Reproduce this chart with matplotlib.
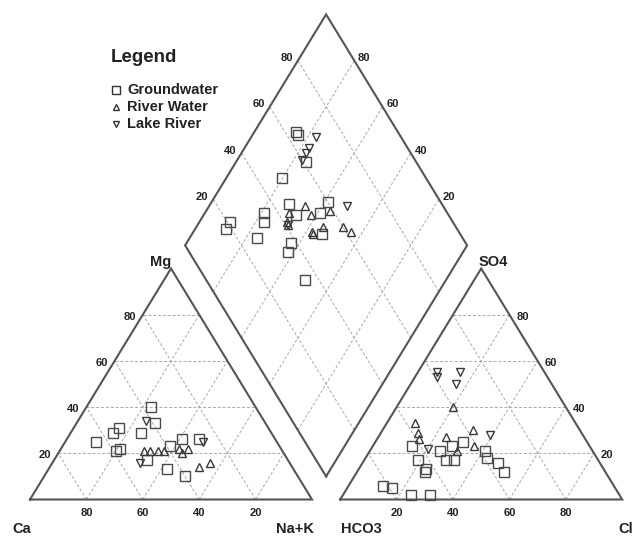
import numpy as np
import matplotlib
matplotlib.use("Agg")
import matplotlib.pyplot as plt

# ---------------- data (percent) ----------------
# Cation triangle: Mg %, Na+K %  (Ca = remainder)
gw_cat_mg = [40, 33, 31, 29, 29, 25, 21, 22, 23, 26, 26, 17, 13, 10]
gw_cat_na = [23, 28, 16, 15, 25, 11, 20, 21, 38, 41, 47, 33, 42, 50]
rw_cat_mg = [21, 21, 21, 21, 22, 22, 20, 14, 16]
rw_cat_na = [30, 32, 35, 37, 42, 45, 44, 53, 56]
lr_cat_mg = [34, 25, 16]
lr_cat_na = [24, 49, 31]

# Anion triangle: SO4 %, Cl %  (HCO3 = remainder)
gw_an_so4 = [23, 17, 13, 12, 21, 23, 25, 17, 17, 21, 18, 16, 12, 6, 5, 2, 2]
gw_an_cl = [14, 19, 24, 24, 25, 28, 31, 29, 32, 41, 43, 48, 52, 12, 16, 24, 31]
rw_an_so4 = [40, 33, 29, 26, 27, 30, 21, 23]
rw_an_cl = [20, 10, 13, 15, 24, 32, 31, 36]
lr_an_so4 = [55, 53, 55, 50, 28, 22]
lr_an_cl = [7, 8, 15, 16, 39, 20]

# Diamond: SO4+Cl %, Ca+Mg %
gw_d_scl = [64, 64, 61, 49, 46, 35, 60, 46, 55, 21, 18, 33, 27, 38, 35, 51, 35]
gw_d_camg = [85, 84, 75, 80, 72, 79, 59, 67, 59, 89, 89, 77, 76, 63, 62, 54, 50]
rw_d_scl = [51, 51, 44, 41, 41, 48, 48, 53, 60, 62, 59]
rw_d_camg = [66, 62, 70, 69, 68, 58, 57, 55, 48, 44, 56]
lr_d_scl = [70, 65, 63, 60, 66, 41]
lr_d_camg = [77, 77, 77, 77, 51, 68]

tick_vals = [20, 40, 60, 80]
series_names = ["Groundwater", "River Water", "Lake River"]

# ---------------- geometry ----------------
H = np.sqrt(3) / 2
G = 0.1  # gap between triangles
PX_X = 282.0
PX_Y = 231.0 / H


def cat_xy(mg, na):
    mg = np.asarray(mg) / 100.0
    na = np.asarray(na) / 100.0
    return na + mg / 2, mg * H


def an_xy(so4, cl):
    so4 = np.asarray(so4) / 100.0
    cl = np.asarray(cl) / 100.0
    return 1 + G + cl + so4 / 2, so4 * H


def dia_xy(p, q):
    p = np.asarray(p) / 100.0
    q = np.asarray(q) / 100.0
    return 1 + G / 2 + (p - q) / 2, G * H + (p + q) * H


fig = plt.figure(figsize=(6.35, 5.36), dpi=100)
ax = fig.add_axes([0, 0, 1, 1])
ax.set_xlim(-30 / PX_X, 605 / PX_X)
ax.set_ylim(-36.5 / PX_Y, 499.5 / PX_Y)
ax.axis("off")

FRAME = dict(color="#555555", lw=1.5, solid_joinstyle="miter", zorder=3)
GRID = dict(color="#a8a8a8", lw=0.7, ls=(0, (3, 2)), zorder=1)

# left triangle
ax.plot([0, 1, 0.5, 0], [0, 0, H, 0], **FRAME)
for v in tick_vals:
    x, y = cat_xy([v, v], [0, 100 - v])
    ax.plot(x, y, **GRID)
    x, y = cat_xy([0, 100 - v], [v, v])
    ax.plot(x, y, **GRID)
    x, y = cat_xy([0, 100 - v], [100 - v, 0])
    ax.plot(x, y, **GRID)

# right triangle
ox = 1 + G
ax.plot([ox, ox + 1, ox + 0.5, ox], [0, 0, H, 0], **FRAME)
for v in tick_vals:
    x, y = an_xy([v, v], [0, 100 - v])
    ax.plot(x, y, **GRID)
    x, y = an_xy([0, 100 - v], [v, v])
    ax.plot(x, y, **GRID)
    x, y = an_xy([0, 100 - v], [100 - v, 0])
    ax.plot(x, y, **GRID)

# diamond
dx, dy = dia_xy([0, 100, 100, 0, 0], [0, 0, 100, 100, 0])
ax.plot(dx, dy, **FRAME)
for v in tick_vals:
    x, y = dia_xy([v, v], [0, 100])
    ax.plot(x, y, **GRID)
    x, y = dia_xy([0, 100], [v, v])
    ax.plot(x, y, **GRID)

# ---------------- tick labels ----------------
TF = dict(fontsize=8, fontweight="bold", family="Liberation Sans",
          ha="center", va="center", color="#222222", zorder=5)
ox_px = 13 / PX_X
for v in tick_vals:
    ax.text(1 - v / 100, -13.5 / PX_Y, str(v), **TF)
    x, y = cat_xy(v, 0)
    ax.text(x - ox_px, y - 2 / PX_Y, str(v), **TF)
    ax.text(ox + v / 100, -13.5 / PX_Y, str(v), **TF)
    x, y = an_xy(v, 100 - v)
    ax.text(x + ox_px, y - 2 / PX_Y, str(v), **TF)
    x, y = dia_xy(v, 100)
    ax.text(x - 11 / PX_X, y + 2.5 / PX_Y, str(v), **TF)
    x, y = dia_xy(100, v)
    ax.text(x + 10 / PX_X, y + 2.5 / PX_Y, str(v), **TF)

LF = dict(fontsize=10.5, fontweight="bold", family="Liberation Sans",
          ha="center", va="center", color="#222222", zorder=5)
ax.text(-8.3 / PX_X, -29.5 / PX_Y, "Ca", **LF)
ax.text(265 / PX_X, -29.5 / PX_Y, "Na+K", **LF)
ax.text(131 / PX_X, 237.5 / PX_Y, "Mg", **LF)
ax.text(463 / PX_X, 237.5 / PX_Y, "SO4", **LF)
ax.text(331 / PX_X, -29.5 / PX_Y, "HCO3", **LF)
ax.text(603.5 / PX_X, -29.5 / PX_Y, "Cl", fontsize=10.5, fontweight="bold",
        family="Liberation Sans", ha="right", va="center", color="#222222")

# ---------------- data markers ----------------
SQ = dict(ls="none", marker="s", ms=7, mfc="none", mec="#4a4a4a", mew=1.0, zorder=4)
UP = dict(ls="none", marker="^", ms=5.5, mfc="none", mec="#3a3a3a", mew=1.0, zorder=4)
DN = dict(ls="none", marker="v", ms=5.5, mfc="none", mec="#3a3a3a", mew=1.0, zorder=4)

ax.plot(*cat_xy(gw_cat_mg, gw_cat_na), **SQ)
ax.plot(*cat_xy(rw_cat_mg, rw_cat_na), **UP)
ax.plot(*cat_xy(lr_cat_mg, lr_cat_na), **DN)

ax.plot(*an_xy(gw_an_so4, gw_an_cl), **SQ)
ax.plot(*an_xy(rw_an_so4, rw_an_cl), **UP)
ax.plot(*an_xy(lr_an_so4, lr_an_cl), **DN)

ax.plot(*dia_xy(gw_d_scl, gw_d_camg), **SQ)
ax.plot(*dia_xy(rw_d_scl, rw_d_camg), **UP)
ax.plot(*dia_xy(lr_d_scl, lr_d_camg), **DN)

# ---------------- legend ----------------
ax.text(80.7 / PX_X, (499.5 - 58) / PX_Y, "Legend", fontsize=13.5,
        fontweight="bold", family="Liberation Sans", ha="left", va="center",
        color="#222222")
leg_markers = ["s", "^", "v"]
leg_y = [90, 107, 124]
for name, mk, yy in zip(series_names, leg_markers, leg_y):
    ax.plot([86 / PX_X], [(499.5 - yy) / PX_Y], ls="none", marker=mk,
            ms=5.5 if mk == "s" else 4.8, mfc="none", mec="#333333", mew=1.0)
    ax.text(97 / PX_X, (499.5 - yy) / PX_Y, name, fontsize=10.5,
            fontweight="bold", family="Liberation Sans", ha="left",
            va="center", color="#222222")

fig.savefig("out.png", dpi=100)
